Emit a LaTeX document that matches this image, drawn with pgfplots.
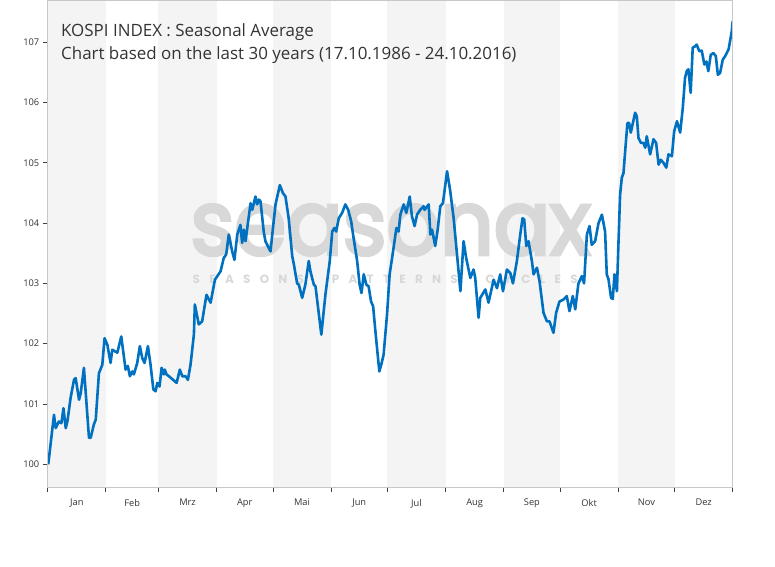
\documentclass[border=0pt]{standalone}
\usepackage{fontspec}
\setmainfont{Open Sans}
\newfontfamily\wmfont{Poppins}
\newfontface\wmfontb{Poppins}[FakeBold=4]
\usepackage{pgfplots}
\pgfplotsset{compat=1.18}
\definecolor{band}{HTML}{F4F4F4}
\definecolor{line}{HTML}{0070C0}
\definecolor{wm}{HTML}{D8D8D8}
\definecolor{txt}{HTML}{333333}
\begin{document}
\begin{tikzpicture}
\path[use as bounding box] (-47.7bp,-80bp) rectangle (727.3bp,487bp);
\begin{axis}[
  at={(0,0)}, anchor=south west,
  scale only axis, width=685bp, height=487bp,
  xmin=0, xmax=365, ymin=99.623, ymax=107.70,
  axis on top,
  axis line style={draw=black!22, line width=0.8bp},
  xtick={0,31,59,90,120,151,181,212,243,273,304,334,365},
  xticklabels={Jan,Feb,Mrz,Apr,Mai,Jun,Jul,Aug,Sep,Okt,Nov,Dez,},
  x tick label as interval,
  ytick={100,101,102,103,104,105,106,107},
  tick align=outside, tick pos=left,
  major tick length=5bp,
  tick style={draw=black!75, line width=0.8bp},
  ticklabel style={font=\fontsize{9.3}{11}\selectfont, text=txt},
  xticklabel style={yshift=-3.5bp},
  /pgf/number format/assume math mode=true,
  /pgf/number format/1000 sep={},
]
\fill[band] (axis cs:0,99.623) rectangle (axis cs:31,107.70);
\fill[band] (axis cs:59,99.623) rectangle (axis cs:90,107.70);
\fill[band] (axis cs:120,99.623) rectangle (axis cs:151,107.70);
\fill[band] (axis cs:181,99.623) rectangle (axis cs:212,107.70);
\fill[band] (axis cs:243,99.623) rectangle (axis cs:273,107.70);
\fill[band] (axis cs:304,99.623) rectangle (axis cs:334,107.70);
\node[inner sep=0, text=wm] at (rel axis cs:0.5004,0.5277) {\resizebox{400bp}{50bp}{\wmfontb seasonax}};
\node[inner sep=0, text=wm, font=\wmfont\bfseries\fontsize{12}{12}\selectfont] at (rel axis cs:0.4927,0.4271) {\makebox[385bp][s]{S\hfill E\hfill A\hfill S\hfill O\hfill N\hfill S\hfill\hfill\hfill P\hfill A\hfill T\hfill T\hfill E\hfill R\hfill N\hfill S\hfill\hfill\hfill C\hfill Y\hfill C\hfill L\hfill E\hfill S}};
\node[anchor=base west, inner sep=0, text=txt, font=\fontsize{17}{20}\selectfont] at (rel axis cs:0.0194,0.9246) {KOSPI INDEX : Seasonal Average};
\node[anchor=base west, inner sep=0, text=txt, font=\fontsize{17}{20}\selectfont] at (rel axis cs:0.0194,0.8768) {Chart based on the last 30 years (17.10.1986 - 24.10.2016)};
\addplot[line, line width=2.6bp, line join=round, mark=none] coordinates {
(0.3,100.00) (3.35,100.82) (4.26,100.60) (6.0,100.71) (7.3,100.68) (8.4,100.93)
(9.6,100.60) (10.5,100.71) (12.2,101.10) (14.0,101.40) (14.9,101.43) (16.7,101.07)
(17.6,101.18) (19.3,101.60) (22.0,100.44) (22.9,100.44) (24.6,100.66) (25.6,100.74)
(27.3,101.51) (29.1,101.65) (30.3,102.09) (31.8,101.98) (33.5,101.68) (34.4,101.90)
(37.1,101.85) (39.2,102.12) (41.5,101.57) (42.7,101.63) (43.8,101.46) (45.1,101.54)
(45.9,101.49) (47.7,101.68) (49.1,101.96) (50.4,101.76) (51.6,101.68) (53.4,101.96)
(54.8,101.65) (56.3,101.24) (57.5,101.21) (58.4,101.35) (59.6,101.29) (60.7,101.60)
(61.9,101.49) (62.4,101.57) (63.3,101.49) (64.6,101.46) (67.2,101.39) (68.7,101.35)
(70.4,101.57) (71.7,101.46) (73.5,101.46) (74.7,101.40) (76.1,101.65) (77.9,102.15)
(78.4,102.65) (80.5,102.32) (82.3,102.37) (84.6,102.81) (86.8,102.68) (89.1,103.06)
(92.1,103.20) (93.8,103.42) (95.1,103.48) (96.5,103.81) (98.3,103.53) (99.5,103.39)
(101.0,103.81) (102.7,103.97) (103.6,103.67) (104.5,103.89) (105.4,103.70) (108.1,104.33)
(109.0,104.22) (110.7,104.44) (111.6,104.31) (112.5,104.39) (113.4,104.36) (115.1,103.86)
(116.0,103.70) (118.7,103.53) (121.4,104.31) (123.7,104.63) (125.3,104.50) (126.7,104.44)
(128.4,104.08) (130.3,103.45) (131.2,103.31) (132.9,103.00) (133.8,102.98) (135.6,102.76)
(137.3,102.98) (139.1,103.37) (140.0,103.20) (141.8,102.98) (142.7,102.95) (145.8,102.15)
(148.0,102.82) (150.3,103.37) (151.6,103.86) (152.8,103.92) (153.7,103.86) (155.1,104.08)
(156.9,104.17) (158.6,104.31) (160.1,104.22) (161.7,104.03) (163.0,103.75) (164.9,103.37)
(166.2,102.98) (167.2,102.84) (168.4,103.15) (169.8,102.98) (171.0,102.95) (172.3,102.70)
(173.4,102.62) (174.6,102.21) (176.7,101.54) (177.8,101.66) (179.0,101.82) (180.8,102.48)
(182.2,103.15) (184.3,103.59) (185.8,103.92) (187.0,103.86) (187.9,104.14) (189.7,104.31)
(191.1,104.17) (192.9,104.44) (194.1,104.11) (195.5,103.95) (196.8,104.14) (198.5,104.22)
(200.3,104.28) (200.8,104.22) (203.0,104.31) (203.9,103.81) (204.8,103.89) (206.5,103.62)
(207.8,103.89) (209.2,104.28) (210.6,104.33) (212.8,104.86) (214.5,104.53) (216.3,104.08)
(218.1,103.48) (219.9,102.87) (221.6,103.70) (223.0,103.42) (225.2,103.09) (226.9,103.23)
(227.8,103.09) (229.6,102.43) (230.5,102.76) (233.2,102.90) (234.9,102.68) (237.6,103.06)
(239.4,102.92) (241.1,103.15) (242.6,102.87) (244.7,103.23) (246.5,103.17) (247.9,103.00)
(250.0,103.37) (251.8,103.81) (253.0,104.08) (253.9,104.06) (255.0,103.62) (256.2,103.70)
(258.0,103.37) (258.9,103.15) (260.7,103.26) (262.1,103.03) (264.2,102.51) (266.0,102.37)
(267.4,102.37) (269.5,102.18) (270.9,102.51) (272.7,102.70) (274.8,102.73) (276.6,102.79)
(278.0,102.54) (279.8,102.79) (281.1,102.57) (282.8,103.00) (284.6,103.12) (285.8,103.00)
(287.3,103.81) (288.7,103.95) (289.9,103.64) (291.7,103.70) (293.5,104.00) (295.3,104.14)
(297.0,103.86) (297.9,103.15) (298.8,103.07) (300.2,102.76) (301.1,102.74) (302.0,103.15)
(303.3,102.87) (304.1,103.64) (305.0,104.47) (305.9,104.75) (306.8,104.83) (307.7,105.19)
(308.9,105.66) (309.8,105.66) (310.7,105.50) (313.0,105.83) (313.9,105.77) (314.8,105.41)
(316.1,105.33) (317.4,105.33) (318.4,105.25) (319.2,105.44) (321.0,105.14) (322.8,105.39)
(324.2,105.33) (325.5,104.97) (326.7,105.05) (328.1,105.00) (329.6,104.92) (330.8,105.14)
(332.6,105.11) (333.8,105.52) (335.3,105.69) (337.0,105.50) (338.4,105.91) (339.6,106.41)
(340.5,106.52) (341.4,106.55) (342.6,106.16) (343.7,106.91) (344.9,106.93) (345.8,106.96)
(347.2,106.85) (348.5,106.86) (349.9,106.63) (351.0,106.68) (352.0,106.52) (353.3,106.79)
(354.7,106.82) (356.0,106.77) (357.1,106.46) (358.3,106.49) (359.7,106.71) (361.0,106.77)
(362.8,106.88) (364.5,107.18) (365.0,107.35)
};
\draw[black!70, line width=0.8bp] (rel axis cs:0,1) -- (rel axis cs:0,0) -- (rel axis cs:1,0);
\end{axis}
\end{tikzpicture}
\end{document}
